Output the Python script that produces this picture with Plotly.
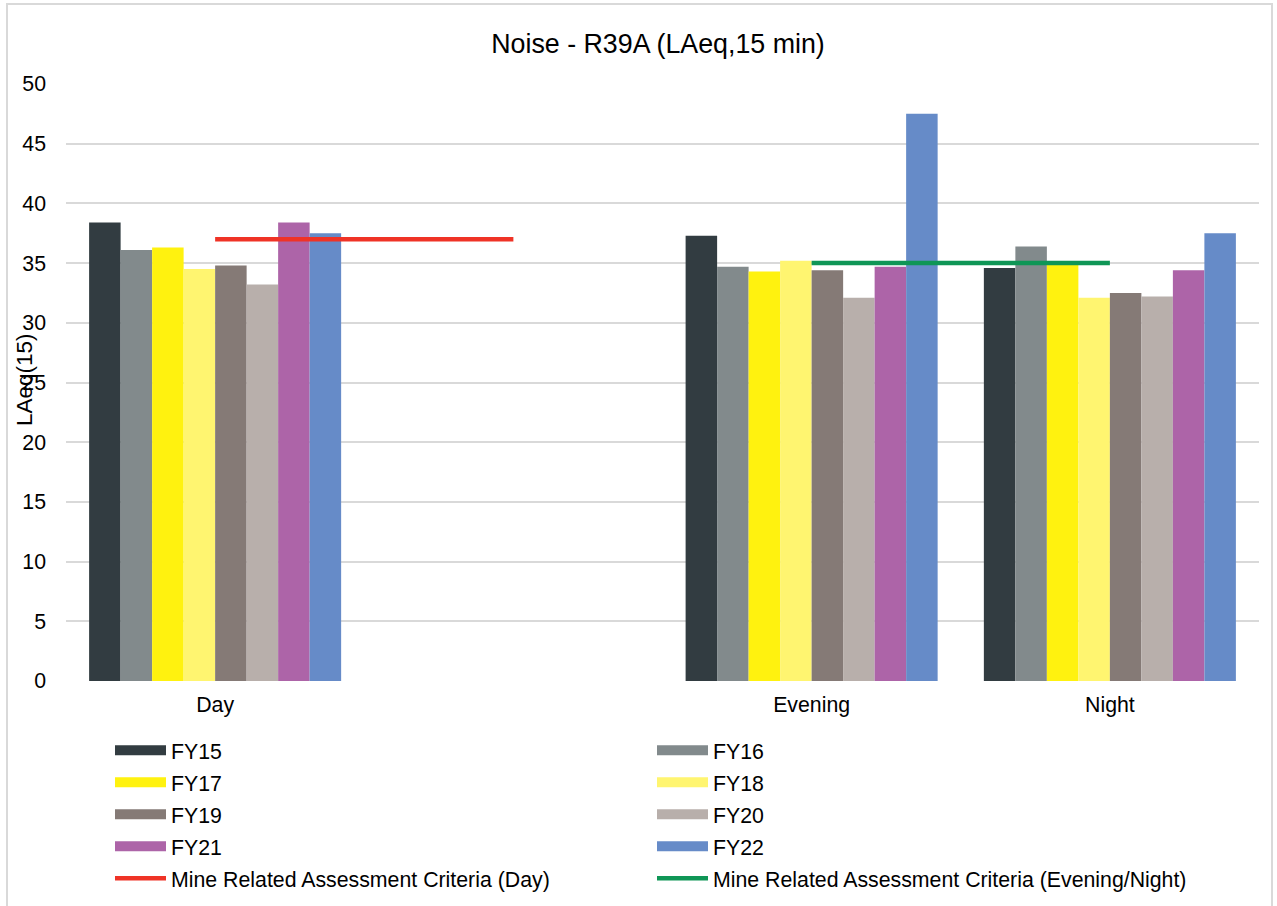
import plotly.graph_objects as go

categories = ["Day", " ", "Evening", "Night"]
series_names = ["FY15", "FY16", "FY17", "FY18", "FY19", "FY20", "FY21", "FY22"]
fy15 = [38.4, None, 37.3, 34.6]
fy16 = [36.1, None, 34.7, 36.4]
fy17 = [36.3, None, 34.3, 35.0]
fy18 = [34.5, None, 35.2, 32.1]
fy19 = [34.8, None, 34.4, 32.5]
fy20 = [33.2, None, 32.1, 32.2]
fy21 = [38.4, None, 34.7, 34.4]
fy22 = [37.5, None, 47.5, 37.5]
criteria_day = [37, 37, None, None]
criteria_evening_night = [None, None, 35, 35]
criteria_names = ["Mine Related Assessment Criteria (Day)",
                  "Mine Related Assessment Criteria (Evening/Night)"]
y_ticks = [0, 5, 10, 15, 20, 25, 30, 35, 40, 45, 50]

series_values = [fy15, fy16, fy17, fy18, fy19, fy20, fy21, fy22]
colors = ["#323c41", "#828a8c", "#fff20f", "#fff570",
          "#857a76", "#b8afab", "#ad64a8", "#668bc8"]
crit_colors = ["#ef3326", "#0f9656"]

W, H = 1277, 906
ML, MR, MT, MB = 66, 18, 84, 225
PW = W - ML - MR
PH = H - MT - MB

def px_x(p):
    return (p - ML) / PW

def px_y(p):
    return (H - MB - p) / PH

FONT = "Liberation Sans, Arial, sans-serif"

fig = go.Figure()
for name, vals, col in zip(series_names, series_values, colors):
    fig.add_trace(go.Bar(x=categories, y=vals, name=name, marker_color=col,
                         marker_line_width=0, showlegend=False))

fig.add_trace(go.Scatter(x=categories, y=criteria_day, mode="lines",
                         line=dict(color=crit_colors[0], width=4.5),
                         name=criteria_names[0], showlegend=False,
                         connectgaps=False))
fig.add_trace(go.Scatter(x=categories, y=criteria_evening_night, mode="lines",
                         line=dict(color=crit_colors[1], width=4.5),
                         name=criteria_names[1], showlegend=False,
                         connectgaps=False))

# legend entries (two columns)
legend_names = series_names + criteria_names
legend_colors = colors + crit_colors
legend_widths = [11] * 8 + [4.5, 4.5]
for i, (n, c, w) in enumerate(zip(legend_names, legend_colors, legend_widths)):
    fig.add_trace(go.Scatter(x=[None], y=[None], mode="lines", name=n,
                             line=dict(color=c, width=w),
                             legend="legend" if i % 2 == 0 else "legend2",
                             legendgroup="g%d" % i, showlegend=True,
                             hoverinfo="skip"))

legend_common = dict(orientation="v", bgcolor="rgba(0,0,0,0)",
                     font=dict(family=FONT, size=21.3, color="#000000"),
                     itemwidth=51, tracegroupgap=1.3, xanchor="left",
                     yanchor="top", y=px_y(730), itemclick=False,
                     itemdoubleclick=False)

fig.update_layout(
    width=W, height=H,
    margin=dict(l=ML, r=MR, t=MT, b=MB, autoexpand=False),
    paper_bgcolor="white", plot_bgcolor="white",
    barmode="group", bargap=0.155, bargroupgap=0,
    font=dict(family=FONT, color="#000000"),
    title=dict(text="Noise - R39A (LAeq,15 min)", x=px_x(658), xref="paper",
               xanchor="center", y=1 - 44 / H, yref="container",
               yanchor="middle",
               font=dict(family=FONT, size=26.8, color="#000000")),
    xaxis=dict(type="category", categoryorder="array", categoryarray=categories,
               showgrid=False, showline=False, zeroline=False,
               ticks="", tickfont=dict(family=FONT, size=21.3, color="#000000"),
               ticklabelstandoff=9),
    yaxis=dict(range=[0, 50], tickvals=y_ticks, showgrid=True,
               gridcolor="#d9d9d9", gridwidth=1.5, zeroline=False,
               showline=False, ticks="",
               tickfont=dict(family=FONT, size=21.3, color="#000000"),
               ticklabelstandoff=19),
    legend=dict(x=px_x(110), **legend_common),
    legend2=dict(x=px_x(652), **legend_common),
    showlegend=True,
    annotations=[dict(text="LAeq(15)", textangle=-90, xref="paper", yref="paper",
                      x=px_x(24), y=px_y(380), xanchor="center", yanchor="middle",
                      showarrow=False,
                      font=dict(family=FONT, size=22.5, color="#000000"))],
    shapes=[dict(type="rect", xref="paper", yref="paper",
                 x0=px_x(7), x1=px_x(1272), y0=px_y(912), y1=px_y(4),
                 line=dict(color="#d9d9d9", width=2), fillcolor="rgba(0,0,0,0)",
                 layer="below")],
)

fig.write_html("out.html",
               config={"displayModeBar": False},
               post_script="document.body.style.margin='0';"
                           "document.body.style.overflow='hidden';")
